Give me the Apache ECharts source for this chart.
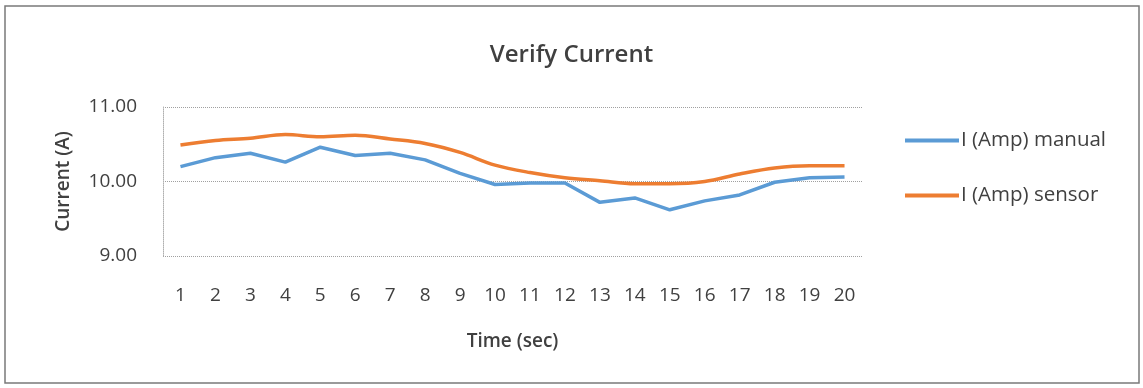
<!DOCTYPE html>
<html><head><meta charset="utf-8">
<script src="https://cdn.jsdelivr.net/npm/echarts@6/dist/echarts.min.js"></script>
<style>html,body{margin:0;padding:0;background:#fff}#c{width:1143px;height:388px}</style>
</head><body><div id="c"></div>
<script>
const categories = ['1','2','3','4','5','6','7','8','9','10','11','12','13','14','15','16','17','18','19','20'];
const manual = [10.20,10.32,10.38,10.26,10.46,10.35,10.38,10.29,10.11,9.96,9.98,9.98,9.72,9.78,9.62,9.74,9.82,9.99,10.05,10.06];
const sensor = [10.49,10.55,10.58,10.63,10.60,10.62,10.57,10.51,10.39,10.22,10.12,10.05,10.01,9.97,9.97,10.00,10.10,10.18,10.21,10.21];
const seriesNames = ['I (Amp) manual','I (Amp) sensor'];
const font = '"Open Sans", "Noto Sans", sans-serif';
const chart = echarts.init(document.getElementById('c'));
chart.setOption({
  animation:false,
  backgroundColor:'#fff',
  textStyle:{fontFamily:font},
  graphic:[{type:'rect',shape:{x:5,y:6,width:1134,height:377},style:{fill:'none',stroke:'#7a7a7a',lineWidth:1.5},silent:true}],
  title:{text:'Verify Current',left:'center',top:38,textStyle:{fontFamily:font,fontSize:24,fontWeight:600,color:'#404040'}},
  legend:{orient:'vertical',left:900,top:125,itemGap:34,itemWidth:54,itemHeight:4,icon:'rect',
    textStyle:{fontFamily:font,fontSize:20.5,color:'#404040',padding:[0,0,0,-3]},data:seriesNames},
  grid:{left:163,right:281,top:107,bottom:132},
  xAxis:{type:'category',data:categories,boundaryGap:true,
    name:'Time (sec)',nameLocation:'middle',nameGap:76,nameTextStyle:{fontFamily:font,fontSize:19,fontWeight:600,color:'#404040'},
    axisLine:{show:false},axisTick:{show:false},
    axisLabel:{fontFamily:font,fontSize:19,color:'#404040',margin:30}},
  yAxis:{type:'value',min:9,max:11,interval:1,
    name:'Current (A)',nameLocation:'middle',nameGap:90,nameTextStyle:{fontFamily:font,fontSize:19,fontWeight:600,color:'#404040'},
    axisLine:{show:true,lineStyle:{color:'#b0b0b0',type:'dotted',width:1}},axisTick:{show:false},
    axisLabel:{fontFamily:font,fontSize:19,color:'#404040',margin:26,formatter:v=>v.toFixed(2)},
    splitLine:{lineStyle:{color:'#a0a0a0',type:'dotted',width:1}}},
  series:[
    {name:seriesNames[0],type:'line',data:manual,symbol:'none',lineStyle:{color:'#5B9BD5',width:3.5},itemStyle:{color:'#5B9BD5'}},
    {name:seriesNames[1],type:'line',data:sensor,symbol:'none',smooth:0.35,lineStyle:{color:'#ED7D31',width:3.5},itemStyle:{color:'#ED7D31'}}
  ]
});
</script></body></html>
